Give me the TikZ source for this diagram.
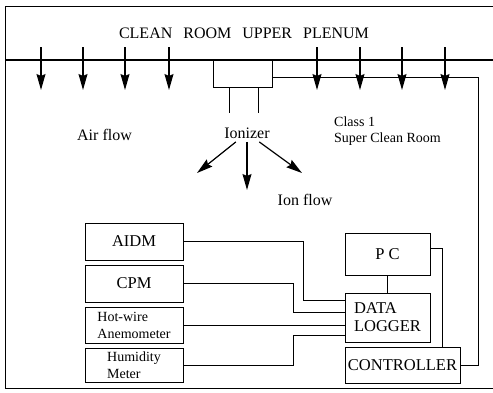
\documentclass[tikz,border=0pt]{standalone}
\usepackage{fontspec}
\setmainfont{Liberation Serif}
\usetikzlibrary{positioning,calc,arrows.meta}

\begin{document}
\begin{tikzpicture}[x=1pt,y=-1pt,
  unitbox/.style={draw,line width=.8,minimum width=98pt,inner sep=1pt,font=\fontsize{16.5}{18}\selectfont},
  wire/.style={line width=.8},
  airflow/.style={-{Stealth[length=16pt,width=9pt,inset=2pt]},line width=1.2},
  lbl/.style={font=\fontsize{16}{18}\selectfont}]
\useasboundingbox (0,0) rectangle (493,392);
% room frame and plenum
\draw[line width=1] (493,6) -- (5,6) -- (5,388) -- (493,388);
\draw[line width=1.2] (5,60) -- (493,60);
\node[lbl] at (244,33) (plenum) {CLEAN\hspace{11pt}ROOM\hspace{11pt}UPPER\hspace{11pt}PLENUM};
\foreach \x in {41,83,125,169,317,360,402,445}
  \draw[airflow] (\x,47) -- (\x,90);
% ionizer
\node[draw,line width=.8,minimum width=59pt,minimum height=27pt] at (242.5,73.5) (ionizer) {};
\coordinate (legL) at (229,113);
\coordinate (legR) at (258,113);
\draw[wire] (ionizer.south -| legL) -- (legL);
\draw[wire] (ionizer.south -| legR) -- (legR);
\node[lbl] at (247,133) (ionlbl) {Ionizer};
\coordinate (ionL) at (197,173);
\coordinate (ionM) at (247,190);
\coordinate (ionR) at (302,173);
\draw[airflow] (ionlbl) -- (ionL);
\draw[airflow] (ionlbl) -- (ionM);
\draw[airflow] (ionlbl) -- (ionR);
\node[lbl] at (104.5,135) (air) {Air flow};
\node[lbl] at (305,200) (ionflow) {Ion flow};
\node[align=left,anchor=west,inner sep=0pt,font=\fontsize{14}{16}\selectfont] at (334,131) (room) {Class 1\\Super Clean Room};
% instruments
\node[unitbox,minimum height=37pt] at (134,241.5) (aidm) {AIDM};
\node[unitbox,minimum height=37pt] at (134,283.5) (cpm) {CPM};
\node[unitbox,minimum height=36pt,align=left,font=\fontsize{14}{17}\selectfont] at (134,325) (hotwire) {Hot-wire\\Anemometer};
\node[unitbox,minimum height=34pt,align=left,font=\fontsize{14}{17}\selectfont] at (134,365) (humid) {Humidity\\Meter};
\node[unitbox,minimum width=85pt,minimum height=42pt] at (387.5,254) (pc) {P C};
\node[unitbox,minimum width=85pt,minimum height=49pt,align=left] at (387.5,317.5) (logger) {DATA\\LOGGER};
\node[unitbox,minimum width=115pt,minimum height=36pt] at (402.5,365) (ctrl) {CONTROLLER};
% wiring
\draw[wire] (aidm.east) -- ++(120,0) |- ($(logger.west)+(0,-17.5)$);
\draw[wire] (cpm.east) -- ++(110,0) |- ($(logger.west)+(0,-5.5)$);
\draw[wire] (hotwire.east) -- (hotwire.east -| logger.west);
\draw[wire] (humid.east) -- ++(110,0) |- ($(logger.west)+(0,17.5)$);
\draw[wire] (pc) -- (logger);
\draw[wire] ($(pc.east)+(0,-6)$) -| ($(ctrl.north)+(39.5,0)$);
\draw[wire] (ctrl.east) -- ++(18,0) |- ($(ionizer.east)+(0,3.5)$);
\end{tikzpicture}
\end{document}
